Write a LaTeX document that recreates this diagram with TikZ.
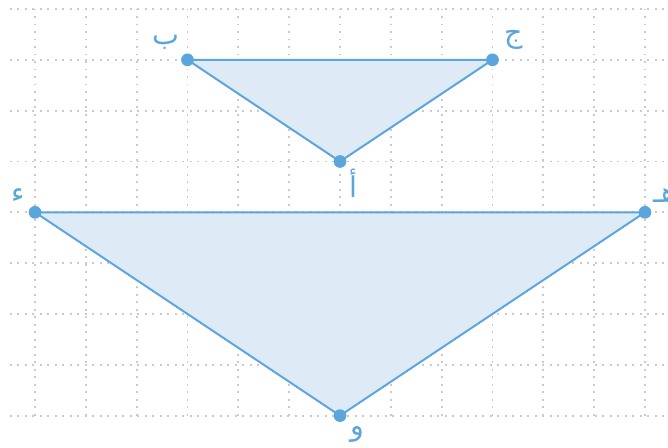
\documentclass[tikz,border=0pt]{standalone}
\usepackage{fontspec}
\usetikzlibrary{calc}
\newfontfamily\arabicfont[Script=Arabic]{DejaVu Sans}
\TeXXeTstate=1
\definecolor{stroke}{HTML}{5AA5DC}
\definecolor{fillc}{HTML}{DEEBF7}
\definecolor{gridc}{HTML}{CACACA}
\begin{document}
\begin{tikzpicture}[x=1cm,y=1cm,
  gridline/.style={gridc, line width=1.1pt, dash pattern=on 1.1pt off 3.1pt},
  tri/.style={draw=stroke, fill=fillc, line width=1.1pt, line join=round},
  pt/.style={circle, fill=stroke, inner sep=0pt, minimum size=0.25cm},
  lbl/.style={text=stroke, font=\arabicfont\fontsize{16}{18}\selectfont, inner sep=0pt}]
\useasboundingbox (-0.689,-0.63) rectangle (12.453,8.177);
\foreach \y in {0,...,8} \draw[gridline] (-0.5,\y) -- (12.6,\y);
\foreach \x in {0,...,12} \draw[gridline] (\x,0) -- (\x,8);
\coordinate (B) at (3,7);
\coordinate (J) at (9,7);
\coordinate (A) at (6,5);
\coordinate (D) at (0,4);
\coordinate (H) at (12,4);
\coordinate (W) at (6,0);
\draw[tri] (B) -- (J) -- (A) -- cycle;
\draw[tri] (D) -- (H) -- (W) -- cycle;
\foreach \p in {B,J,A,D,H,W} \node[pt] (n\p) at (\p) {};
\node[lbl] (lB) at ($(B)+(-0.43,0.35)$) {\beginR ب\endR};
\node[lbl] (lJ) at ($(J)+(0.41,0.39)$) {\beginR ج\endR};
\node[lbl] (lA) at ($(A)+(0.27,-0.42)$) {\beginR أ\endR};
\node[lbl] (lD) at ($(D)+(-0.33,0.33)$) {\beginR ء\endR};
\node[lbl] (lH) at ($(H)+(0.40,0.33)$) {\beginR هـ\endR};
\node[lbl] (lW) at ($(W)+(0.34,-0.37)$) {\beginR و\endR};
\end{tikzpicture}
\end{document}
